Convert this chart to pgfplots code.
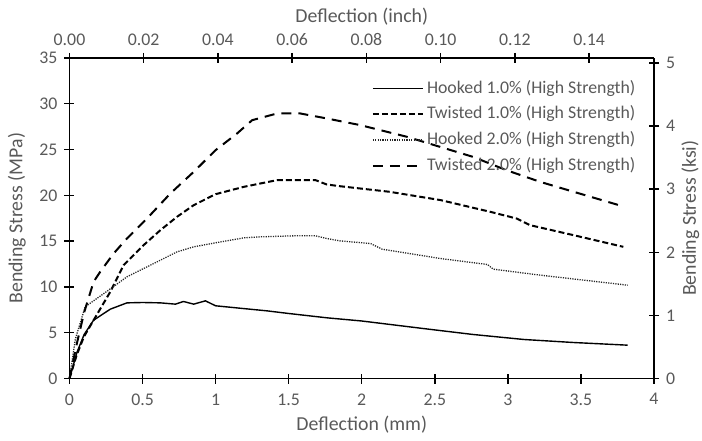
\documentclass[border=0pt]{standalone}
\usepackage{pgfplots}
\pgfplotsset{compat=1.18}
\usepackage{fontspec}
\setmainfont{Carlito}
\definecolor{txt}{RGB}{89,89,89}
\newcommand{\tfont}{\fontsize{8.9}{10}\selectfont}
\newcommand{\lfont}{\fontsize{9.9}{11}\selectfont}
\begin{document}
\begin{tikzpicture}
\path[use as bounding box] (-34.75pt,-30.75pt) rectangle ++(351pt,220pt);
\pgfplotsset{
  common/.style={
    scale only axis, width=292.25pt, height=160.25pt,
    /pgf/number format/assume math mode=true,
    tick label style={font=\tfont, text=txt},
    label style={font=\lfont, text=txt},
    axis line style={black, line width=0.9pt},
    major tick length=5pt, tick align=center,
    tick style={black, line width=0.7pt},
    clip=false,
  }
}
\begin{axis}[common, name=ax, at={(0,0)}, anchor=south west,
  xmin=0, xmax=4, ymin=0, ymax=35,
  axis x line*=bottom, axis y line*=left,
  xtick={0,0.5,...,4}, ytick={0,5,...,35},
  xticklabels={0,0.5,1,1.5,2,2.5,3,3.5,4},
  xticklabel style={yshift=-1.5pt},
  xlabel={Deflection (mm)}, ylabel={Bending Stress (MPa)},
  xlabel style={at={(axis description cs:0.5,-0.145)}, anchor=center},
  ylabel style={at={(axis description cs:-0.09,0.5)}, anchor=center},
  legend style={draw=none, fill=none, at={(1,1)}, anchor=north east,
    xshift=-4.5pt, yshift=-6.5pt, font=\tfont, text=txt,
    nodes={inner sep=1.6pt, text height=7.2pt, text depth=2.5pt},
    cells={anchor=west}},
  legend image code/.code={\draw[#1] (0pt,0pt) -- (25pt,0pt);},
]
\addplot[black, line width=0.7pt] coordinates {
(0,0) (0.05,2.8) (0.10,4.8) (0.165,6.37) (0.279,7.57) (0.393,8.26) (0.50,8.30)
(0.622,8.26) (0.725,8.12) (0.78,8.41) (0.85,8.12) (0.93,8.48) (1.0,7.94)
(1.19,7.64) (1.35,7.39) (1.5,7.10) (1.76,6.63) (2.0,6.28) (2.42,5.46)
(2.76,4.81) (3.11,4.26) (3.45,3.93) (3.82,3.64)};
\addlegendentry{Hooked 1.0\% (High Strength)}
\addplot[black, line width=1pt, dash pattern=on 3pt off 1.5pt] coordinates {
(0,0) (0.05,2.6) (0.10,4.6) (0.165,6.37) (0.279,9.46) (0.37,12.38) (0.507,14.56)
(0.622,16.20) (0.736,17.66) (0.85,18.93) (1.0,20.13) (1.193,20.93) (1.307,21.30)
(1.42,21.66) (1.684,21.66) (1.76,21.19) (1.85,21.0) (2.19,20.39) (2.54,19.48)
(2.88,18.2) (3.06,17.47) (3.15,16.75) (3.45,15.65) (3.79,14.38)};
\addlegendentry{Twisted 1.0\% (High Strength)}
\addplot[black!85, line width=0.65pt, dash pattern=on 0.6pt off 0.6pt] coordinates {
(0,0) (0.04,4.3) (0.107,7.83) (0.245,9.39) (0.393,11.10) (0.622,12.92)
(0.736,13.83) (0.85,14.38) (1.0,14.82) (1.193,15.36) (1.307,15.47)
(1.536,15.58) (1.684,15.58) (1.76,15.29) (1.85,15.03) (2.06,14.74)
(2.14,14.12) (2.54,13.10) (2.86,12.45) (2.90,11.94) (3.22,11.29) (3.82,10.19)};
\addlegendentry{Hooked 2.0\% (High Strength)}
\addplot[black, line width=1pt, dash pattern=on 5pt off 3.5pt] coordinates {
(0,0) (0.05,3.8) (0.10,7.2) (0.165,10.56) (0.21,11.65) (0.302,13.65)
(0.393,15.29) (0.53,17.47) (0.69,20.20) (0.85,22.57) (1.0,24.94)
(1.147,26.76) (1.25,28.21) (1.42,28.94) (1.58,28.94) (1.76,28.40)
(1.99,27.67) (2.31,26.39) (2.76,24.21) (2.99,22.75) (3.22,21.48)
(3.45,20.39) (3.76,18.93)};
\addlegendentry{Twisted 2.0\% (High Strength)}
\end{axis}
\begin{axis}[common, at={(0,0)}, anchor=south west,
  xmin=0, xmax=0.15748, ymin=0, ymax=5.0763,
  axis x line*=top, axis y line*=right,
  xtick={0,0.02,...,0.14}, ytick={0,1,...,5},
  xticklabel style={/pgf/number format/fixed, /pgf/number format/fixed zerofill, /pgf/number format/precision=2},
  yticklabel style={/pgf/number format/fixed, /pgf/number format/precision=0},
  scaled x ticks=false,
  xlabel={Deflection (inch)}, ylabel={Bending Stress (ksi)},
  xlabel style={at={(axis description cs:0.5,1.128)}, anchor=center},
  ylabel style={at={(axis description cs:1.062,0.5)}, anchor=center, rotate=0},
]
\end{axis}
\end{tikzpicture}
\end{document}
